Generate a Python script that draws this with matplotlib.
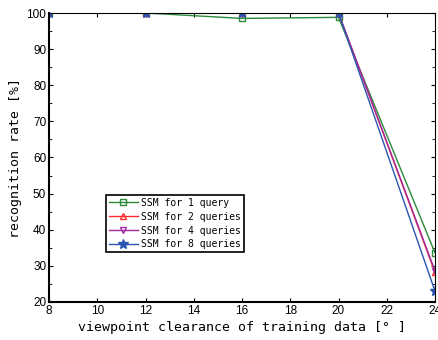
import matplotlib
matplotlib.use("Agg")
import matplotlib.pyplot as plt
from matplotlib.ticker import MultipleLocator

# data
clearance = [8, 12, 16, 20, 24]
rate_1q = [100, 100, 98.5, 98.8, 33.6]
rate_2q = [100, 100, 100, 100, 28.2]
rate_4q = [100, 100, 100, 100, 28.6]
rate_8q = [100, 100, 100, 100, 23.0]

labels = ["SSM for 1 query", "SSM for 2 queries", "SSM for 4 queries", "SSM for 8 queries"]

mono = ["DejaVu Sans Mono"]
tickfont = ["Liberation Sans Narrow", "Liberation Sans", "DejaVu Sans"]

fig = plt.figure(figsize=(4.38, 3.40), dpi=100)
ax = fig.add_axes([49 / 438, 38 / 340, 386 / 438, 289 / 340])

ax.plot(clearance, rate_1q, color="#2a8a3a", marker="s", mfc="none", ms=5, lw=1, label=labels[0])
ax.plot(clearance, rate_2q, color="#ff2a2a", marker="^", mfc="none", ms=5, lw=1, label=labels[1])
ax.plot(clearance, rate_4q, color="#a02aa0", marker="v", mfc="none", ms=5, lw=1, label=labels[2])
ax.plot(clearance, rate_8q, color="#2a55b0", marker="*", ms=7, lw=1, label=labels[3])

ax.set_xlim(8, 24)
ax.set_ylim(20, 100)
ax.xaxis.set_major_locator(MultipleLocator(2))
ax.yaxis.set_major_locator(MultipleLocator(10))
ax.yaxis.set_minor_locator(MultipleLocator(5))
ax.tick_params(which="both", direction="in", top=True, right=True, labelsize=8.5, pad=2)
ax.tick_params(which="major", length=3)
ax.tick_params(which="minor", length=2)
for lab in ax.get_xticklabels() + ax.get_yticklabels():
    lab.set_family(tickfont)

ax.spines["left"].set_linewidth(1.5)
ax.spines["bottom"].set_linewidth(1.5)
ax.spines["top"].set_linewidth(0.8)
ax.spines["right"].set_linewidth(0.8)

ax.set_xlabel("viewpoint clearance of training data [° ]", family=mono, fontsize=9.5, labelpad=3)
ax.set_ylabel("recognition rate [%]", family=mono, fontsize=9.5, labelpad=3)

leg = ax.legend(loc="lower left", bbox_to_anchor=(0.135, 0.155), prop={"family": mono, "size": 7},
                fancybox=False, framealpha=1, edgecolor="black", borderpad=0.3,
                labelspacing=0.4, handlelength=3, handletextpad=0.3)
leg.get_frame().set_linewidth(1.2)

fig.savefig("out.png", dpi=100)
